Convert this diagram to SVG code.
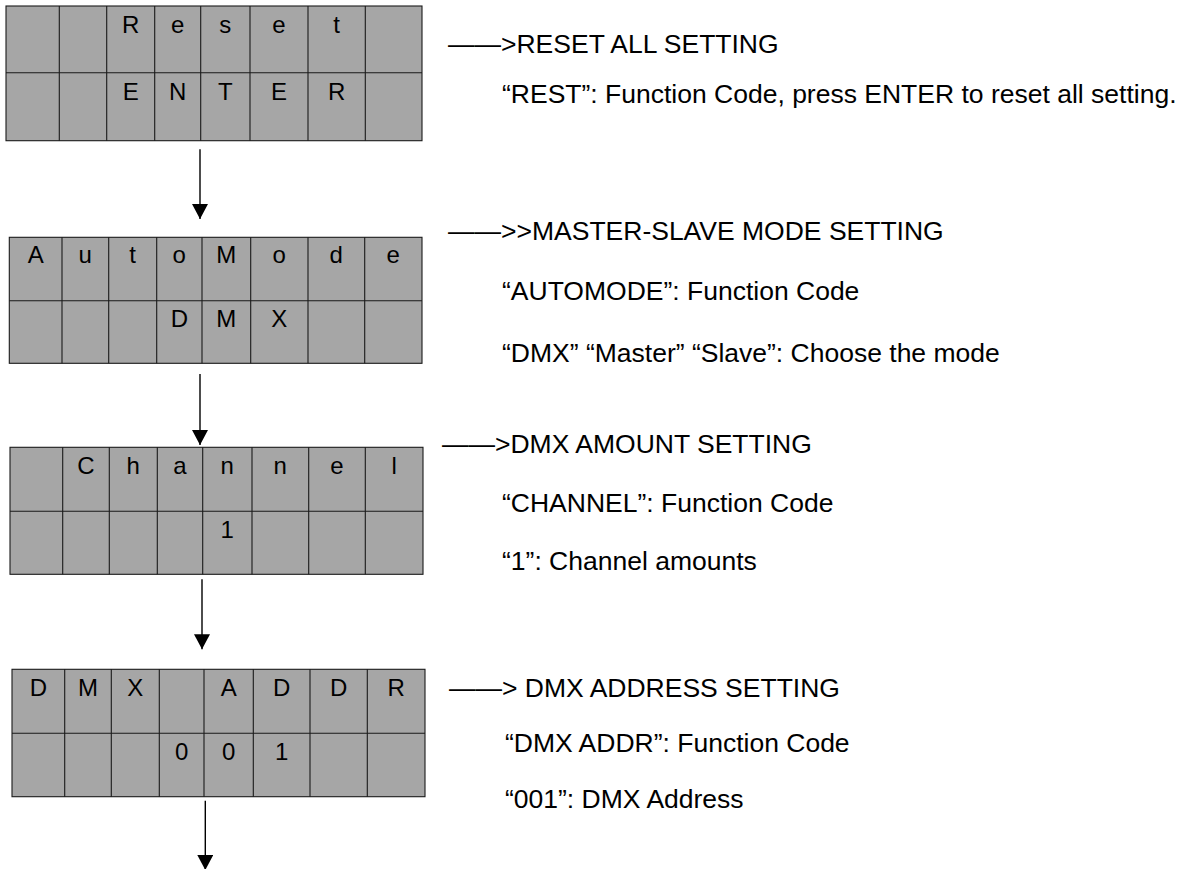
<svg xmlns="http://www.w3.org/2000/svg" width="1185" height="869" viewBox="0 0 1185 869">
<style>
.cell{fill:#a6a6a6;stroke:#1a1a1a;stroke-width:1.1}
.ln{stroke:#1a1a1a;stroke-width:1.1;fill:none}
.ct{font-family:"Liberation Sans",Arial,sans-serif;font-size:24px;fill:#000;text-anchor:middle}
.rt{font-family:"Liberation Sans",Arial,sans-serif;font-size:26.5px;fill:#000}
.conn{stroke:#000;stroke-width:1.4;fill:none}
</style>
<defs>
<marker id="ah" markerUnits="userSpaceOnUse" markerWidth="16" markerHeight="16" refX="15" refY="8" orient="auto">
<path d="M0,0 L15,8 L0,16 Z" fill="#000"/>
</marker>
</defs>
<rect width="1185" height="869" fill="#fff"/>

<g id="table-reset">
<rect class="cell" x="6" y="6" width="416" height="134.7"/>
<path class="ln" d="M6,72.7H422M59.3,6V140.7M106.7,6V140.7M154.7,6V140.7M200.7,6V140.7M250,6V140.7M308,6V140.7M365.3,6V140.7"/>
<g class="ct">
<text x="130.7" y="33.3">R</text><text x="177.7" y="33.3">e</text><text x="225.3" y="33.3">s</text><text x="279" y="33.3">e</text><text x="336.7" y="33.3">t</text>
<text x="130.7" y="100">E</text><text x="177.7" y="100">N</text><text x="225.3" y="100">T</text><text x="279" y="100">E</text><text x="336.7" y="100">R</text>
</g>
</g>

<g id="table-automode">
<rect class="cell" x="9.3" y="237.3" width="412.7" height="126"/>
<path class="ln" d="M9.3,300.7H422M62,237.3V363.3M108.7,237.3V363.3M156.7,237.3V363.3M202,237.3V363.3M250.7,237.3V363.3M308,237.3V363.3M364.7,237.3V363.3"/>
<g class="ct">
<text x="35.7" y="263">A</text><text x="85.3" y="263">u</text><text x="132.7" y="263">t</text><text x="179.3" y="263">o</text><text x="226.3" y="263">M</text><text x="279.3" y="263">o</text><text x="336.3" y="263">d</text><text x="393.3" y="263">e</text>
<text x="179.3" y="327.3">D</text><text x="226.3" y="327.3">M</text><text x="279.3" y="327.3">X</text>
</g>
</g>

<g id="table-channel">
<rect class="cell" x="10" y="447.3" width="413" height="127"/>
<path class="ln" d="M10,511.3H423M62.7,447.3V574.3M109.3,447.3V574.3M157.3,447.3V574.3M202.7,447.3V574.3M252,447.3V574.3M308.7,447.3V574.3M365.3,447.3V574.3"/>
<g class="ct">
<text x="86" y="474">C</text><text x="133.3" y="474">h</text><text x="180" y="474">a</text><text x="227.3" y="474">n</text><text x="280.3" y="474">n</text><text x="337" y="474">e</text><text x="394.2" y="474">l</text>
<text x="227.3" y="538">1</text>
</g>
</g>

<g id="table-dmxaddr">
<rect class="cell" x="12" y="669.3" width="413" height="127.4"/>
<path class="ln" d="M12,733.3H425M64.7,669.3V796.7M111.3,669.3V796.7M159.3,669.3V796.7M204,669.3V796.7M253.3,669.3V796.7M310,669.3V796.7M367.3,669.3V796.7"/>
<g class="ct">
<text x="38.3" y="696">D</text><text x="88" y="696">M</text><text x="135.3" y="696">X</text><text x="228.7" y="696">A</text><text x="281.7" y="696">D</text><text x="338.7" y="696">D</text><text x="396.2" y="696">R</text>
<text x="181.7" y="760">0</text><text x="228.7" y="760">0</text><text x="281.7" y="760">1</text>
</g>
</g>

<g id="connectors">
<line class="conn" x1="200" y1="149.3" x2="200" y2="219" marker-end="url(#ah)"/>
<line class="conn" x1="200" y1="374" x2="200" y2="445" marker-end="url(#ah)"/>
<line class="conn" x1="202" y1="579.3" x2="202" y2="649.3" marker-end="url(#ah)"/>
<line class="conn" x1="205.3" y1="800.7" x2="205.3" y2="870" marker-end="url(#ah)"/>
</g>

<g id="desc-reset" class="rt">
<text x="448" y="53">——&gt;RESET ALL SETTING</text>
<text x="502" y="103">“REST”: Function Code, press ENTER to reset all setting.</text>
</g>
<g id="desc-automode" class="rt">
<text x="448" y="240">——&gt;&gt;MASTER-SLAVE MODE SETTING</text>
<text x="502" y="300">“AUTOMODE”: Function Code</text>
<text x="502" y="362">“DMX” “Master” “Slave”: Choose the mode</text>
</g>
<g id="desc-channel" class="rt">
<text x="442" y="453">——&gt;DMX AMOUNT SETTING</text>
<text x="502" y="512">“CHANNEL”: Function Code</text>
<text x="502" y="570">“1”: Channel amounts</text>
</g>
<g id="desc-dmxaddr" class="rt">
<text x="449" y="697">——&gt; DMX ADDRESS SETTING</text>
<text x="505" y="752">“DMX ADDR”: Function Code</text>
<text x="505" y="808">“001”: DMX Address</text>
</g>
</svg>
